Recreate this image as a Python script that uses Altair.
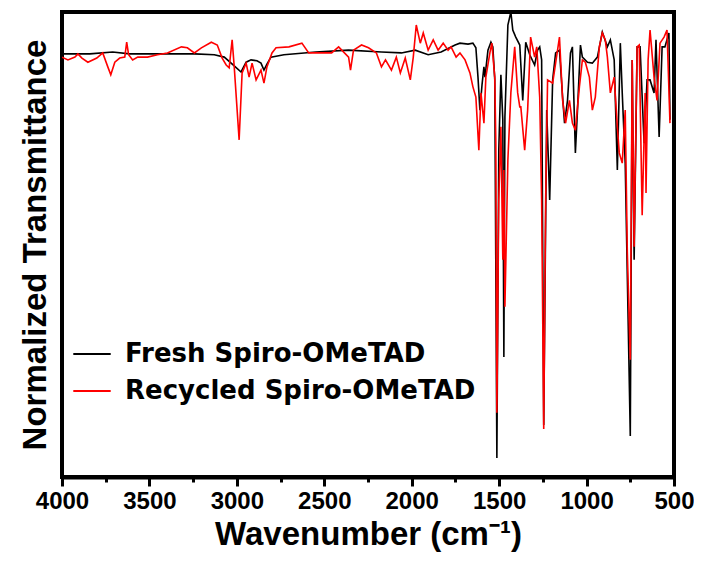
import altair as alt
import pandas as pd

series_names = ["Fresh Spiro-OMeTAD", "Recycled Spiro-OMeTAD"]
series_colors = ["#000000", "#ff0000"]

fresh_wn = [4000, 3841, 3710, 3613, 3442, 3243, 3129, 3072, 3015, 2976, 2947, 2919, 2885, 2862, 2845, 2828,
            2805, 2731, 2549, 2361, 2173, 2059, 1980, 1906, 1832, 1752, 1724, 1678, 1650, 1633, 1621, 1610,
            1598, 1587, 1581, 1564, 1547, 1536, 1525, 1513, 1502, 1490, 1479, 1473, 1467, 1450, 1433, 1422,
            1405, 1382, 1365, 1348, 1325, 1297, 1280, 1268, 1257, 1245, 1228, 1211, 1194, 1177, 1155, 1137,
            1126, 1109, 1092, 1081, 1064, 1052, 1035, 1024, 995, 967, 938, 910, 881, 864, 842, 824, 807, 796,
            779, 750, 739, 728, 711, 694, 671, 654, 637, 614, 603, 585, 568, 552, 529, 523]
fresh_t = [91.0, 91.0, 91.4, 91.0, 91.0, 91.0, 90.8, 90.3, 88.4, 87.1, 89.2, 89.7, 89.5, 89.0, 87.5, 88.8,
           90.3, 90.8, 91.4, 91.8, 91.4, 91.2, 91.8, 90.8, 91.4, 92.9, 93.3, 93.1, 93.3, 92.3, 86.0, 78.9,
           84.3, 88.2, 86.0, 91.8, 93.5, 92.5, 85.4, 4.1, 70.3, 86.5, 76.8, 25.8, 77.4, 97.2, 100, 96.1,
           94.6, 92.9, 81.0, 93.5, 90.8, 88.6, 91.8, 92.5, 89.7, 11.2, 78.9, 59.6, 85.4, 91.2, 91.8, 81.7,
           76.1, 81.0, 91.2, 92.5, 69.7, 78.9, 92.9, 90.3, 89.2, 89.0, 90.3, 95.7, 92.5, 94.0, 89.7, 66.0, 93.3, 82.6,
           67.5, 8.8, 89.7, 46.7, 92.5, 92.5, 71.8, 85.4, 85.4, 82.6, 94.0, 73.1, 92.5, 92.5, 95.5, 76.8]

recycled_wn = [4000, 3966, 3926, 3909, 3886, 3852, 3801, 3767, 3738, 3721, 3698, 3670, 3641, 3630, 3619, 3596,
               3567, 3511, 3454, 3397, 3317, 3283, 3243, 3203, 3146, 3112, 3084, 3061, 3044, 3027, 3015, 2987,
               2970, 2947, 2930, 2913, 2890, 2862, 2845, 2828, 2799, 2776, 2702, 2628, 2589, 2532, 2458, 2418,
               2361, 2350, 2333, 2287, 2247, 2202, 2173, 2150, 2116, 2088, 2065, 2037, 2008, 1991, 1974, 1951,
               1934, 1906, 1877, 1849, 1820, 1792, 1775, 1746, 1724, 1695, 1667, 1650, 1633, 1616, 1604, 1587,
               1576, 1553, 1542, 1525, 1519, 1513, 1502, 1490, 1479, 1473, 1467, 1450, 1433, 1411, 1394, 1382,
               1376, 1354, 1337, 1320, 1297, 1285, 1268, 1257, 1245, 1234, 1223, 1194, 1177, 1155, 1137, 1120,
               1098, 1081, 1064, 1041, 1024, 1007, 984, 967, 950, 927, 910, 893, 881, 864, 842, 824, 813, 796,
               779, 767, 750, 739, 728, 711, 699, 682, 665, 660, 648, 637, 614, 597, 580, 557, 540, 523]
recycled_t = [90.3, 89.7, 90.3, 91.0, 90.1, 89.2, 90.1, 91.2, 88.2, 86.5, 89.2, 90.1, 90.3, 93.5, 90.8, 89.7,
              90.3, 90.3, 90.8, 91.2, 92.5, 92.3, 91.2, 92.3, 93.5, 92.9, 90.1, 88.6, 88.0, 94.0, 88.2, 72.5,
              86.9, 89.0, 86.0, 89.0, 85.4, 87.5, 84.7, 88.2, 91.2, 92.3, 92.5, 93.3, 91.2, 91.2, 91.2, 92.5,
              90.3, 87.5, 91.8, 92.9, 92.3, 91.2, 88.2, 89.7, 87.5, 90.3, 86.9, 90.1, 85.4, 90.3, 97.2, 93.3,
              95.5, 91.8, 94.0, 91.8, 93.3, 91.8, 92.5, 90.3, 91.2, 89.7, 86.9, 83.9, 81.7, 70.3, 82.6, 76.1,
              86.0, 91.2, 93.3, 86.0, 71.8, 13.8, 59.6, 75.3, 46.7, 66.0, 36.6, 68.2, 82.6, 92.5, 82.6, 79.6,
              79.6, 70.3, 78.9, 94.6, 90.3, 92.5, 81.7, 59.6, 10.3, 59.6, 85.4, 84.7, 89.0, 94.6, 81.0, 76.1,
              81.0, 76.1, 74.6, 83.9, 89.7, 89.2, 86.0, 78.9, 81.7, 92.5, 95.5, 94.0, 90.3, 82.6, 86.0, 75.3, 69.7, 67.5,
              78.9, 48.4, 25.2, 89.7, 49.5, 92.5, 92.9, 56.3, 82.6, 61.1, 89.7, 96.1, 86.0, 81.0, 93.3, 94.6, 96.1, 76.1]

x_ticks = [4000, 3750, 3500, 3250, 3000, 2750, 2500, 2250, 2000, 1750, 1500, 1250, 1000, 750, 500]

df = pd.concat([
    pd.DataFrame({"wn": fresh_wn, "t": fresh_t, "series": series_names[0]}),
    pd.DataFrame({"wn": recycled_wn, "t": recycled_t, "series": series_names[1]}),
], ignore_index=True)

x_enc = alt.X(
    "wn:Q",
    scale=alt.Scale(domain=[500, 4000], reverse=True, nice=False, zero=False),
    axis=alt.Axis(
        values=x_ticks,
        format="d",
        labelExpr="datum.value % 500 === 0 ? datum.label : ''",
        tickSize={"condition": {"test": "datum.value % 500 === 0", "value": 9}, "value": 5},
        tickWidth=3,
        tickColor="black",
        domainWidth=4,
        domainColor="black",
        grid=False,
        labelFont="Liberation Sans Narrow, Liberation Sans",
        labelFontSize=24,
        labelFontWeight="bold",
        labelColor="black",
        labelPadding=3,
        labelFlush=False,
        labelOverlap=False,
        title="Wavenumber (cm\u207b\u00b9)",
        titleFont="Liberation Sans",
        titleFontSize=33,
        titleFontWeight="bold",
        titleColor="black",
        titlePadding=5,
    ),
)
y_enc = alt.Y(
    "t:Q",
    scale=alt.Scale(domain=[0, 100], nice=False, zero=False),
    axis=alt.Axis(
        labels=False, ticks=False, grid=False, domain=False,
        title="Normalized Transmittance",
        titleFont="Liberation Sans",
        titleFontSize=33,
        titleFontWeight="bold",
        titleColor="black",
        titlePadding=10,
    ),
)
color_enc = alt.Color(
    "series:N",
    scale=alt.Scale(domain=series_names, range=series_colors),
    legend=alt.Legend(
        title=None,
        orient="none",
        legendX=10,
        legendY=322,
        symbolType="stroke",
        symbolSize=1400,
        symbolStrokeWidth=2,
        labelFont="DejaVu Sans",
        labelFontSize=26,
        labelFontWeight="bold",
        labelColor="black",
        labelOffset=13,
        labelLimit=0,
        rowPadding=4,
        padding=0,
    ),
)

base = alt.Chart(df).mark_line(strokeWidth=1.6, clip=True).encode(x=x_enc, y=y_enc, color=color_enc)

chart = alt.layer(
    base.transform_filter(alt.datum.series == series_names[0]),
    base.transform_filter(alt.datum.series == series_names[1]),
).properties(
    width=612,
    height=465,
    autosize="none",
    padding={"left": 54, "top": 4, "right": 20, "bottom": 85},
).configure_view(stroke="black", strokeWidth=4)

chart.save("out.html", embed_options={"renderer": "svg", "actions": False})
